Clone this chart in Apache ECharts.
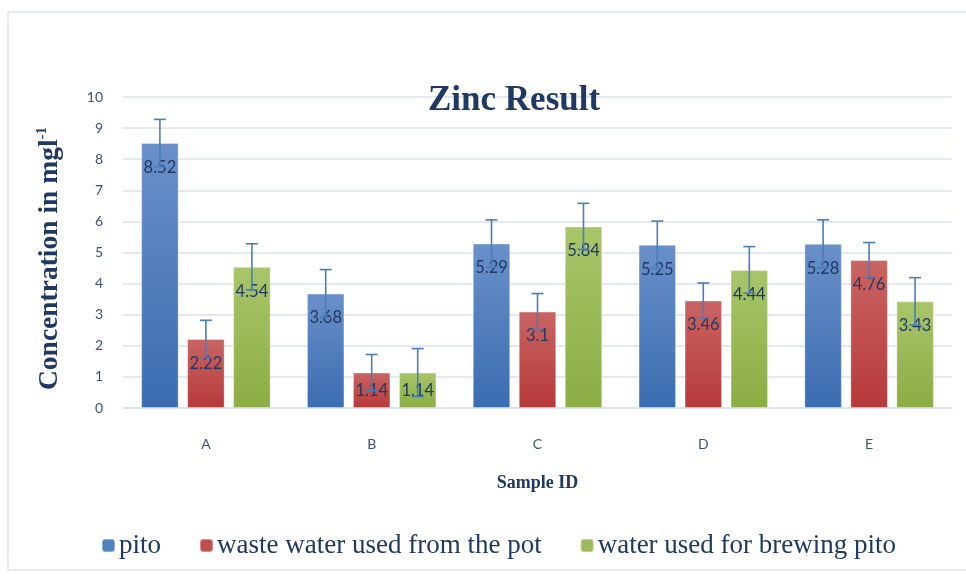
<!DOCTYPE html>
<html>
<head>
<meta charset="utf-8">
<script src="https://cdn.jsdelivr.net/npm/echarts@6/dist/echarts.min.js"></script>
<style>
  html, body { margin: 0; padding: 0; background: #fff; }
  #c-zinc { width: 966px; height: 577px; }
</style>
</head>
<body>
<div id="c-zinc"></div>
<script>
  // Zinc results per sample
  var samples = ['A', 'B', 'C', 'D', 'E'];
  var seriesNames = ['pito', 'waste water used from the pot', 'water used for brewing pito'];
  var pito = [8.52, 3.68, 5.29, 5.25, 5.28];
  var wasteWater = [2.22, 1.14, 3.1, 3.46, 4.76];
  var brewWater = [4.54, 1.14, 5.84, 4.44, 3.43];
  // error bar half widths
  var pitoErr = [0.76, 0.77, 0.76, 0.76, 0.77];
  var wasteErr = [0.6, 0.58, 0.58, 0.56, 0.56];
  var brewErr = [0.74, 0.77, 0.74, 0.75, 0.76];
  var yTicks = [0, 1, 2, 3, 4, 5, 6, 7, 8, 9, 10];

  var BAR_W = 37.5, BAR_GAP = 8.5;
  var navy = '#1f3864';
  var tickColor = '#3d5177';

  var colors = [
    ['#6a90c9', '#3a6cb1'],
    ['#c96563', '#b7393a'],
    ['#a9c56b', '#8bad43']
  ];
  var solid = ['#4f81bd', '#c0504d', '#9bbb59'];

  function grad(c) {
    return new echarts.graphic.LinearGradient(0, 0, 0, 1, [
      { offset: 0, color: c[0] }, { offset: 1, color: c[1] }
    ]);
  }

  function barSeries(i, vals) {
    return {
      name: seriesNames[i],
      type: 'bar',
      barWidth: BAR_W,
      barGap: (BAR_GAP / BAR_W * 100) + '%',
      itemStyle: { color: grad(colors[i]), borderColor: 'rgba(255,255,255,0.35)', borderWidth: 1 },
      label: {
        show: true,
        position: 'insideTop',
        distance: 16,
        color: navy,
        fontFamily: 'Lato',
        fontSize: 16.5
      },
      data: vals.map(function (v) {
        return v < 1.5 ? { value: v, label: { position: 'inside', distance: 0 } } : v;
      }),
      z: 2
    };
  }

  function errSeries(i, vals, errs) {
    var offset = (i - 1) * (BAR_W + BAR_GAP);
    return {
      name: seriesNames[i],
      type: 'custom',
      z: 5,
      silent: true,
      renderItem: function (params, api) {
        var x = api.value(0), v = api.value(1), e = api.value(2);
        var hi = api.coord([x, v + e]);
        var lo = api.coord([x, v - e]);
        var px = hi[0] + offset, cap = 6;
        var st = { stroke: '#4a7ebb', lineWidth: 1.6 };
        return {
          type: 'group',
          children: [
            { type: 'line', shape: { x1: px, y1: hi[1], x2: px, y2: lo[1] }, style: st },
            { type: 'line', shape: { x1: px - cap, y1: hi[1], x2: px + cap, y2: hi[1] }, style: st },
            { type: 'line', shape: { x1: px - cap, y1: lo[1], x2: px + cap, y2: lo[1] }, style: st }
          ]
        };
      },
      data: vals.map(function (v, k) { return [k, v, errs[k]]; })
    };
  }

  var zincChart = echarts.init(document.getElementById('c-zinc'));
  zincChart.setOption({
    animation: false,
    title: {
      text: 'Zinc Result',
      left: 423,
      top: 78,
      textStyle: { fontFamily: 'Liberation Serif', fontWeight: 'bold', fontSize: 35, color: navy }
    },
    graphic: [{
      type: 'rect',
      shape: { x: 8, y: 12, width: 980, height: 558 },
      style: { fill: 'none', stroke: '#dbe3ef', lineWidth: 1.5 },
      z: -1
    }],
    legend: {
      data: seriesNames.map(function (n, i) { return { name: n, itemStyle: { color: solid[i] } }; }),
      left: 96,
      top: 527,
      itemWidth: 13,
      itemHeight: 13,
      itemGap: 38,
      textStyle: { fontFamily: 'Liberation Serif', fontSize: 27, color: navy, padding: [0, 0, 0, -1] }
    },
    grid: { left: 123, right: 14, top: 97, bottom: 169 },
    xAxis: {
      type: 'category',
      data: samples,
      name: 'Sample ID',
      nameLocation: 'middle',
      nameGap: 66,
      nameTextStyle: { fontFamily: 'Liberation Serif', fontWeight: 'bold', fontSize: 18, color: navy },
      axisLine: { lineStyle: { color: '#d9e2f0', width: 1.5 } },
      axisTick: { show: false },
      axisLabel: { margin: 29, fontFamily: 'Lato', fontSize: 14, color: tickColor }
    },
    yAxis: {
      type: 'value',
      min: yTicks[0],
      max: yTicks[yTicks.length - 1],
      interval: 1,
      name: '{a|Concentration in mgl}{b|-1}',
      nameLocation: 'middle',
      nameRotate: 90,
      nameGap: 58,
      nameTextStyle: {
        padding: [0, 12, 0, 0],
        rich: {
          a: { fontFamily: 'Liberation Serif', fontWeight: 'bold', fontSize: 27.5, color: navy, lineHeight: 30 },
          b: { fontFamily: 'Liberation Serif', fontWeight: 'bold', fontSize: 15, color: navy, verticalAlign: 'top', lineHeight: 30 }
        }
      },
      axisLabel: { margin: 20, fontFamily: 'Lato', fontSize: 14, color: tickColor },
      splitLine: { lineStyle: { color: '#d9e2f0', width: 1.5 } }
    },
    series: [
      barSeries(0, pito),
      barSeries(1, wasteWater),
      barSeries(2, brewWater),
      errSeries(0, pito, pitoErr),
      errSeries(1, wasteWater, wasteErr),
      errSeries(2, brewWater, brewErr)
    ]
  });

  window.onresize = function () { zincChart.resize(); };
</script>
</body>
</html>
